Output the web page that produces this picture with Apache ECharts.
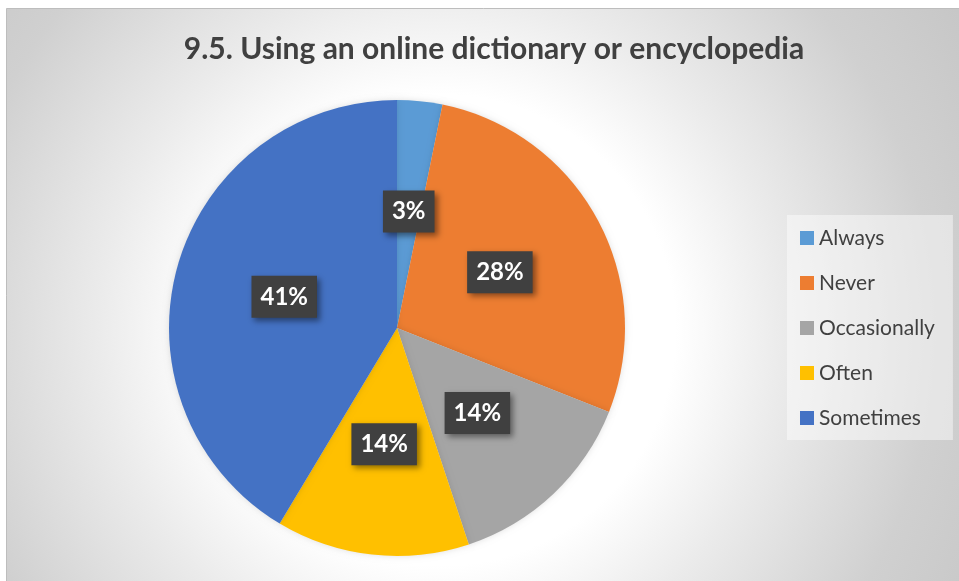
<!DOCTYPE html>
<html>
<head>
<meta charset="utf-8">
<script src="https://cdn.jsdelivr.net/npm/echarts@6/dist/echarts.min.js"></script>
<style>
html,body{margin:0;padding:0;background:#fff;}
#chart{width:959px;height:581px;}
</style>
</head>
<body>
<div id="chart"></div>
<script>
const titleText = '9.5. Using an online dictionary or encyclopedia';
const categories = ['Always', 'Never', 'Occasionally', 'Often', 'Sometimes'];
const values = [3.2, 27.8, 13.9, 13.7, 41.4];
const colors = ['#5B9BD5', '#ED7D31', '#A5A5A5', '#FFC000', '#4472C4'];

const FONT = 'Lato, Carlito, "Open Sans", sans-serif';
const chart = echarts.init(document.getElementById('chart'), null, {renderer: 'canvas'});

chart.setOption({
  backgroundColor: '#ffffff',
  animation: false,
  color: colors,
  graphic: [{
    type: 'rect',
    z: -10,
    silent: true,
    shape: {x: 6.5, y: 8.5, width: 960, height: 580},
    style: {
      fill: {
        type: 'radial', x: 440, y: 330, r: 620, global: true,
        colorStops: [
          {offset: 0, color: '#ffffff'},
          {offset: 0.38, color: '#ffffff'},
          {offset: 0.55, color: '#ebebeb'},
          {offset: 0.8, color: '#d0d0d0'},
          {offset: 1, color: '#c6c6c6'}
        ]
      },
      stroke: '#bdbdbd',
      lineWidth: 1
    }
  }],
  title: {
    text: titleText,
    left: 489,
    textAlign: 'center',
    top: 29,
    textStyle: {fontFamily: FONT, fontWeight: 'bold', fontSize: 30, color: '#404040'}
  },
  legend: {
    orient: 'vertical',
    left: 787,
    top: 215,
    padding: [11, 18, 10, 13],
    backgroundColor: 'rgba(255,255,255,0.45)',
    itemWidth: 14,
    itemHeight: 14,
    itemGap: 21,
    icon: 'rect',
    data: categories,
    textStyle: {fontFamily: FONT, fontSize: 21, color: '#404040', lineHeight: 24}
  },
  series: [{
    type: 'pie',
    center: [397, 328],
    radius: 228,
    startAngle: 90,
    clockwise: true,
    percentPrecision: 0,
    avoidLabelOverlap: false,
    itemStyle: {borderWidth: 0, shadowBlur: 6, shadowColor: 'rgba(0,0,0,0.12)'},
    label: {
      show: true,
      position: 'inside',
      formatter: '{d}%',
      fontFamily: FONT,
      fontWeight: 'bold',
      fontSize: 24,
      lineHeight: 24,
      color: '#ffffff',
      backgroundColor: '#404040',
      padding: [9, 9],
      shadowColor: 'rgba(0,0,0,0.45)',
      shadowBlur: 6,
      shadowOffsetX: 3,
      shadowOffsetY: 3
    },
    labelLine: {show: false},
    emphasis: {disabled: true},
    data: categories.map((c, i) => ({name: c, value: values[i]}))
  }]
});
</script>
</body>
</html>
